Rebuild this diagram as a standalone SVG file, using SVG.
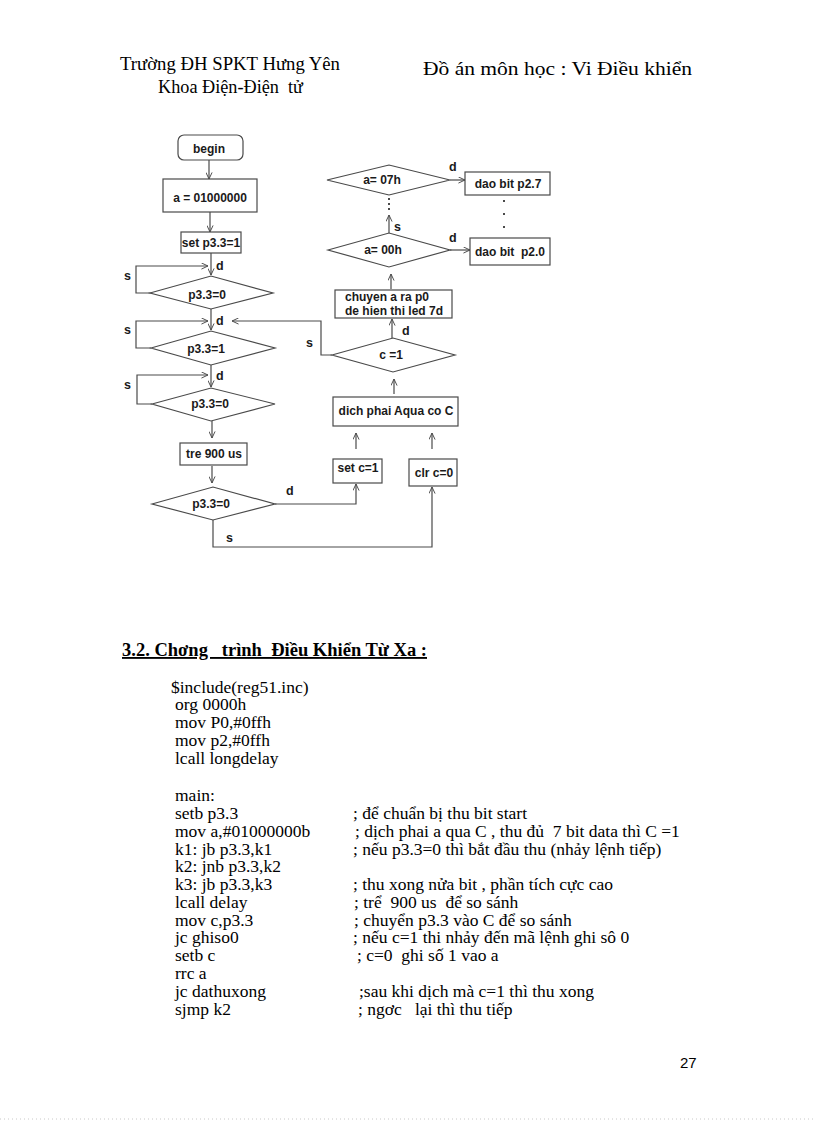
<svg xmlns="http://www.w3.org/2000/svg" width="816" height="1123" viewBox="0 0 816 1123">
<style>
.bg{fill:#fff}
.box{fill:#fff;stroke:#4a4a4a;stroke-width:1.2}
.ln{fill:none;stroke:#4a4a4a;stroke-width:1.2}
.ar{fill:none;stroke:#4a4a4a;stroke-width:1.2;marker-end:url(#ah)}
.fl{font-family:"Liberation Sans",Arial,sans-serif;font-weight:bold;font-size:12px;fill:#1a1a1a}
.lb{font-family:"Liberation Sans",Arial,sans-serif;font-weight:bold;font-size:12.5px;fill:#1a1a1a}
.tm{font-family:"Liberation Serif","Times New Roman",serif;font-size:17.5px;fill:#000}
.hd{font-family:"Liberation Serif","Times New Roman",serif;font-size:18.5px;fill:#000}
.dot{fill:#4a4a4a}
</style>
<defs>
<marker id="ah" viewBox="0 0 8 8" refX="7.5" refY="4" markerWidth="7" markerHeight="7" markerUnits="userSpaceOnUse" orient="auto">
<path d="M0,0.5 L7.5,4 L0,7.5" fill="none" stroke="#4a4a4a" stroke-width="1.1"/>
</marker>
</defs>
<rect class="bg" x="0" y="0" width="816" height="1123"/>

<g id="header">
<text class="hd" x="120" y="70" textLength="220" lengthAdjust="spacingAndGlyphs">Trường ĐH SPKT Hưng Yên</text>
<text class="hd" x="158" y="93" textLength="145" lengthAdjust="spacingAndGlyphs" xml:space="preserve">Khoa Điện-Điện  tử</text>
<text class="hd" x="423" y="75" font-size="19.5" textLength="269" lengthAdjust="spacingAndGlyphs">Đồ án môn học : Vi Điều khiển</text>
</g>

<g id="connectors">
<path class="ar" d="M209,160 V179"/>
<path class="ar" d="M210,212 V232"/>
<path class="ar" d="M211,253 V275"/>
<path class="ar" d="M151,293 H136 V266 H208"/>
<path class="ar" d="M211,309 V330"/>
<path class="ar" d="M151,348 H136 V321 H208"/>
<path class="ar" d="M332,355 H321 V321 H232"/>
<path class="ar" d="M211,365 V387"/>
<path class="ar" d="M152,404 H137 V375 H208"/>
<path class="ar" d="M212,421 V438"/>
<path class="ar" d="M212,466 V483"/>
<path class="ar" d="M275,504 H356 V484"/>
<path class="ar" d="M213,520 V547 H432 V487"/>
<path class="ar" d="M356,449 V433"/>
<path class="ar" d="M432,449 V433"/>
<path class="ar" d="M394,394 V379"/>
<path class="ar" d="M392,338 V319"/>
<path class="ar" d="M391,289 V274"/>
<path class="ar" d="M389,233 V215"/>
<path class="ar" d="M450,180 H465"/>
<path class="ar" d="M450,250 H470"/>
<rect class="dot" x="388" y="198" width="2" height="2"/>
<rect class="dot" x="388" y="203" width="2" height="2"/>
<rect class="dot" x="388" y="208" width="2" height="2"/>
<rect class="dot" x="503" y="200" width="2" height="2"/>
<rect class="dot" x="503" y="213" width="2" height="2"/>
<rect class="dot" x="503" y="226" width="2" height="2"/>
<text class="lb" x="216" y="270">d</text>
<text class="lb" x="124" y="280">s</text>
<text class="lb" x="216" y="325">d</text>
<text class="lb" x="124" y="334">s</text>
<text class="lb" x="306" y="347">s</text>
<text class="lb" x="216" y="380">d</text>
<text class="lb" x="124" y="389">s</text>
<text class="lb" x="286" y="495">d</text>
<text class="lb" x="226" y="542">s</text>
<text class="lb" x="402" y="335">d</text>
<text class="lb" x="394" y="231">s</text>
<text class="lb" x="449" y="171">d</text>
<text class="lb" x="449" y="242">d</text>
</g>

<g id="n_begin">
<rect class="box" x="178" y="135" width="65" height="25" rx="6"/>
<text class="fl" x="209" y="153" font-size="16" text-anchor="middle">begin</text>
</g>
<g id="n_a">
<rect class="box" x="163" y="179" width="94" height="33"/>
<text class="fl" x="210" y="202" text-anchor="middle">a = 01000000</text>
</g>
<g id="n_set">
<rect class="box" x="181" y="232" width="60" height="21"/>
<text class="fl" x="211" y="247" text-anchor="middle">set p3.3=1</text>
</g>
<g id="n_d1">
<polygon class="box" points="150,293 211,276 273,293 211,309"/>
<text class="fl" x="207" y="299" text-anchor="middle">p3.3=0</text>
</g>
<g id="n_d2">
<polygon class="box" points="151,348 211,331 275,348 211,365"/>
<text class="fl" x="206" y="353" text-anchor="middle">p3.3=1</text>
</g>
<g id="n_d3">
<polygon class="box" points="152,404 211,388 275,404 211,421"/>
<text class="fl" x="210" y="408" text-anchor="middle">p3.3=0</text>
</g>
<g id="n_tre">
<rect class="box" x="180" y="443" width="67" height="22"/>
<text class="fl" x="214" y="458" text-anchor="middle">tre 900 us</text>
</g>
<g id="n_d4">
<polygon class="box" points="152,504 213,487 275,504 213,520"/>
<text class="fl" x="211" y="508" text-anchor="middle">p3.3=0</text>
</g>
<g id="n_setc">
<rect class="box" x="333" y="459" width="49" height="24"/>
<text class="fl" x="358" y="472" text-anchor="middle">set c=1</text>
</g>
<g id="n_clrc">
<rect class="box" x="409" y="459" width="48" height="27"/>
<text class="fl" x="434" y="477" text-anchor="middle">clr c=0</text>
</g>
<g id="n_dich">
<rect class="box" x="333" y="397" width="125" height="29"/>
<text class="fl" x="396" y="415" text-anchor="middle">dich phai Aqua co C</text>
</g>
<g id="n_c1">
<polygon class="box" points="332,355 393,338 455,355 393,372"/>
<text class="fl" x="391" y="359" text-anchor="middle">c =1</text>
</g>
<g id="n_chuyen">
<rect class="box" x="335" y="290" width="117" height="28"/>
<text class="fl" x="345" y="301" font-size="11">chuyen a ra p0</text>
<text class="fl" x="345" y="315" font-size="11">de hien thi led 7d</text>
</g>
<g id="n_a00">
<polygon class="box" points="328,250 389,233 450,250 389,267"/>
<text class="fl" x="383" y="254" text-anchor="middle">a= 00h</text>
</g>
<g id="n_a07">
<polygon class="box" points="327,180 389,165 450,180 389,195"/>
<text class="fl" x="382" y="184" text-anchor="middle">a= 07h</text>
</g>
<g id="n_p27">
<rect class="box" x="465" y="172" width="85" height="23"/>
<text class="fl" x="508" y="188" text-anchor="middle">dao bit p2.7</text>
</g>
<g id="n_p20">
<rect class="box" x="470" y="238" width="80" height="27"/>
<text class="fl" x="510" y="256" text-anchor="middle" xml:space="preserve">dao bit  p2.0</text>
</g>

<g id="section">
<text class="hd" x="122" y="656" font-weight="bold" text-decoration="underline" textLength="305" lengthAdjust="spacingAndGlyphs" xml:space="preserve">3.2. Chơng   trình  Điều Khiển Từ Xa :</text>
</g>

<g id="code" class="tm">
<text class="tm" x="171" y="693">$include(reg51.inc)</text>
<text class="tm" x="175" y="710">org 0000h</text>
<text class="tm" x="175" y="728">mov P0,#0ffh</text>
<text class="tm" x="175" y="746">mov p2,#0ffh</text>
<text class="tm" x="175" y="764">lcall longdelay</text>
<text class="tm" x="175" y="801">main:</text>
<text class="tm" x="175" y="819">setb p3.3</text>
<text class="tm" x="175" y="837">mov a,#01000000b</text>
<text class="tm" x="175" y="855">k1: jb p3.3,k1</text>
<text class="tm" x="175" y="872">k2: jnb p3.3,k2</text>
<text class="tm" x="175" y="890">k3: jb p3.3,k3</text>
<text class="tm" x="175" y="908">lcall delay</text>
<text class="tm" x="175" y="926">mov c,p3.3</text>
<text class="tm" x="175" y="943">jc ghiso0</text>
<text class="tm" x="175" y="961">setb c</text>
<text class="tm" x="175" y="979">rrc a</text>
<text class="tm" x="175" y="997">jc dathuxong</text>
<text class="tm" x="175" y="1015">sjmp k2</text>
<text class="tm" x="353" y="819">; để chuẩn bị thu bit start</text>
<text class="tm" x="355" y="837" xml:space="preserve">; dịch phai a qua C , thu đủ  7 bit data thì C =1</text>
<text class="tm" x="353" y="855">; nếu p3.3=0 thì bắt đầu thu (nhảy lệnh tiếp)</text>
<text class="tm" x="353" y="890">; thu xong nửa bit , phần tích cực cao</text>
<text class="tm" x="354" y="908" xml:space="preserve">; trể  900 us  để so sánh</text>
<text class="tm" x="354" y="926">; chuyển p3.3 vào C để so sánh</text>
<text class="tm" x="353" y="943">; nếu c=1 thi nhảy đến mã lệnh ghi sô 0</text>
<text class="tm" x="357" y="961" xml:space="preserve">; c=0  ghi số 1 vao a</text>
<text class="tm" x="359" y="997">;sau khi dịch mà c=1 thì thu xong</text>
<text class="tm" x="358" y="1015" xml:space="preserve">; ngơc   lại thì thu tiếp</text>
</g>

<g id="footer">
<text x="680" y="1068" font-family="Liberation Sans,Arial,sans-serif" font-size="15" fill="#000">27</text>
<line x1="0" y1="1119" x2="816" y2="1119" stroke="#c8c8c8" stroke-width="1" stroke-dasharray="1,3"/>
</g>
</svg>
